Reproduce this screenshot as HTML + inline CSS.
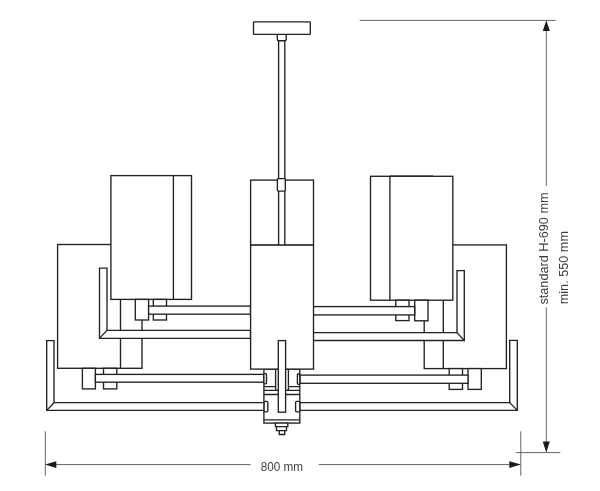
<!DOCTYPE html>
<html>
<head>
<meta charset="utf-8">
<title>Chandelier dimensions</title>
<style>
html,body{margin:0;padding:0;background:#fff;}
body{width:600px;height:491px;overflow:hidden;}
svg{display:block;}
.l{fill:#fff;stroke:#222;stroke-width:1.35;stroke-linejoin:miter;}
.n{fill:none;stroke:#222;stroke-width:1.35;}
.d{fill:none;stroke:#555;stroke-width:0.9;}
.a{fill:#1a1a1a;stroke:none;}
.t1{font-family:"Liberation Sans",sans-serif;font-size:12.3px;fill:#444;}
.t2{font-family:"Liberation Sans",sans-serif;font-size:12px;fill:#3c3c3c;}
</style>
</head>
<body>
<svg width="600" height="491" viewBox="0 0 600 491">
<rect width="600" height="491" fill="#fff"/>

<g transform="translate(0,0.3)">
<!-- back lower shades -->
<g id="lower-shades">
<rect class="l" x="57.6" y="244.2" width="84.4" height="123.8"/>
<path class="n" d="M120.5,244.2V368"/>
<rect class="l" x="424.2" y="244.6" width="82.2" height="123.7"/>
<path class="n" d="M443.3,244.6V368.3"/>
</g>

<!-- lower sockets, nuts, rods -->
<g id="lower-fittings">
<rect class="l" x="82.4" y="368" width="13" height="20.6"/>
<rect class="l" x="103.5" y="368" width="13.3" height="20.6"/>
<rect class="l" x="95.4" y="374.1" width="168.5" height="7.8"/>
<rect class="l" x="468" y="368.3" width="13.3" height="20.8"/>
<rect class="l" x="449.2" y="368.3" width="13.3" height="20.8"/>
<rect class="l" x="299.8" y="374.8" width="168.2" height="8.2"/>
</g>

<!-- upper arms -->
<g id="upper-arms">
<path class="l" d="M99.5,267.8H107V330.1H250.5V338.1H99.5Z"/>
<path class="n" d="M99.5,338.1L107,330.1"/>
<path class="l" d="M464.3,270.3H457V332.3H313.3V340.2H464.3Z"/>
<path class="n" d="M464.3,340.2L457,332.3"/>
</g>

<!-- upper shades -->
<g id="upper-shades">
<rect class="l" x="110.9" y="175.3" width="80.6" height="123.8"/>
<path class="n" d="M173.4,175.3V299.1"/>
<rect class="l" x="370.5" y="176" width="82.3" height="123.9"/>
<path class="n" d="M389.9,176V299.9"/>
<path class="n" d="M390,175.6H433" style="stroke-width:0.9"/>
</g>

<!-- upper sockets, nuts, rods -->
<g id="upper-fittings">
<rect class="l" x="135.3" y="299.1" width="13.3" height="20.6"/>
<rect class="l" x="153.3" y="299.1" width="13.2" height="20.6"/>
<rect class="l" x="148.6" y="305.8" width="101.9" height="8.1"/>
<rect class="l" x="414.7" y="299.9" width="13.3" height="20.6"/>
<rect class="l" x="395.8" y="299.9" width="13.2" height="20.4"/>
<rect class="l" x="313.3" y="306.3" width="101.4" height="8.3"/>
</g>

<!-- ceiling canopy and stem -->
<g id="stem">
<rect class="l" x="250.6" y="179.8" width="62.9" height="65"/>
<rect class="l" x="278.6" y="38" width="6.2" height="207"/>
<path class="l" d="M277.3,34.1H286.2V38.9Q286.2,40.4 284.7,40.4H278.8Q277.3,40.4 277.3,38.9Z"/>
<rect class="l" x="253.5" y="21.5" width="56.8" height="12.6" rx="0.6"/>
<rect class="l" x="277.4" y="178.3" width="7.9" height="12.5" rx="0.8"/>
</g>

<!-- hub -->
<g id="hub">
<rect class="l" x="263.9" y="368.8" width="35.9" height="54"/>
<path class="n" d="M263.9,386.3H299.8M263.9,390H299.8M263.9,394.2H299.8M263.9,419.6H299.8"/>
<rect class="l" x="275.6" y="368.8" width="12.8" height="21.2"/>
<rect class="l" x="263.9" y="373.4" width="2.6" height="10.2" rx="0.8"/>
<rect class="l" x="297.4" y="373.7" width="2.4" height="10.3" rx="0.8"/>
<path class="l" d="M275.4,422.8H287.8V426.3H286.5V430.4H284.7V434.2H279.3V430.4H276.5V426.3H275.4Z"/>
<path class="n" d="M276.5,426.3H286.5M279.3,430.4H284.7"/>
</g>

<!-- centre front shade -->
<rect class="l" x="250.6" y="244.8" width="62.9" height="124"/>
<rect class="l" x="278.3" y="340.3" width="7.3" height="71.6"/>

<!-- lower arms -->
<g id="lower-arms">
<path class="l" d="M46.7,340.3H54V402.4H264.1V410.1H46.7Z"/>
<path class="n" d="M46.7,410.1L54,402.4"/>
<path class="l" d="M517.3,340.1H509.7V402.3H299.8V410.1H517.3Z"/>
<path class="n" d="M517.3,410.1L509.7,402.3"/>
<rect class="l" x="264.1" y="401.1" width="3.7" height="10.4" rx="1"/>
<rect class="l" x="295.6" y="401.1" width="4.2" height="10.4" rx="1"/>
</g>

<!-- dimensions -->
<g id="dims">
<path class="d" d="M359.7,20.1H555.8M515.8,452.3H560.3M546.3,24V185.4M546.3,306.9V449M45.3,431V475.4M520.8,431V475.4M50,464.3H250.6M318.8,464.3H516"/>
<path class="a" d="M546.3,19.9L549.8,30.6H542.8Z"/>
<path class="a" d="M546.3,452.5L549.8,441.2H542.8Z"/>
<path class="a" d="M45.1,464.3L56.3,460.9V467.7Z"/>
<path class="a" d="M521,464.3L509.3,460.9V467.7Z"/>
<g style="filter:grayscale(1)">
<text class="t1" x="260.7" y="470.4" textLength="42.4" lengthAdjust="spacingAndGlyphs">800 mm</text>
<text class="t2" transform="translate(547.8,304.3) rotate(-90)" textLength="112.2" lengthAdjust="spacingAndGlyphs">standard H-690 mm</text>
<text class="t2" transform="translate(567.9,304) rotate(-90)" textLength="73.3" lengthAdjust="spacingAndGlyphs">min. 550 mm</text>
</g>
</g>
</g>
</svg>
</body>
</html>
